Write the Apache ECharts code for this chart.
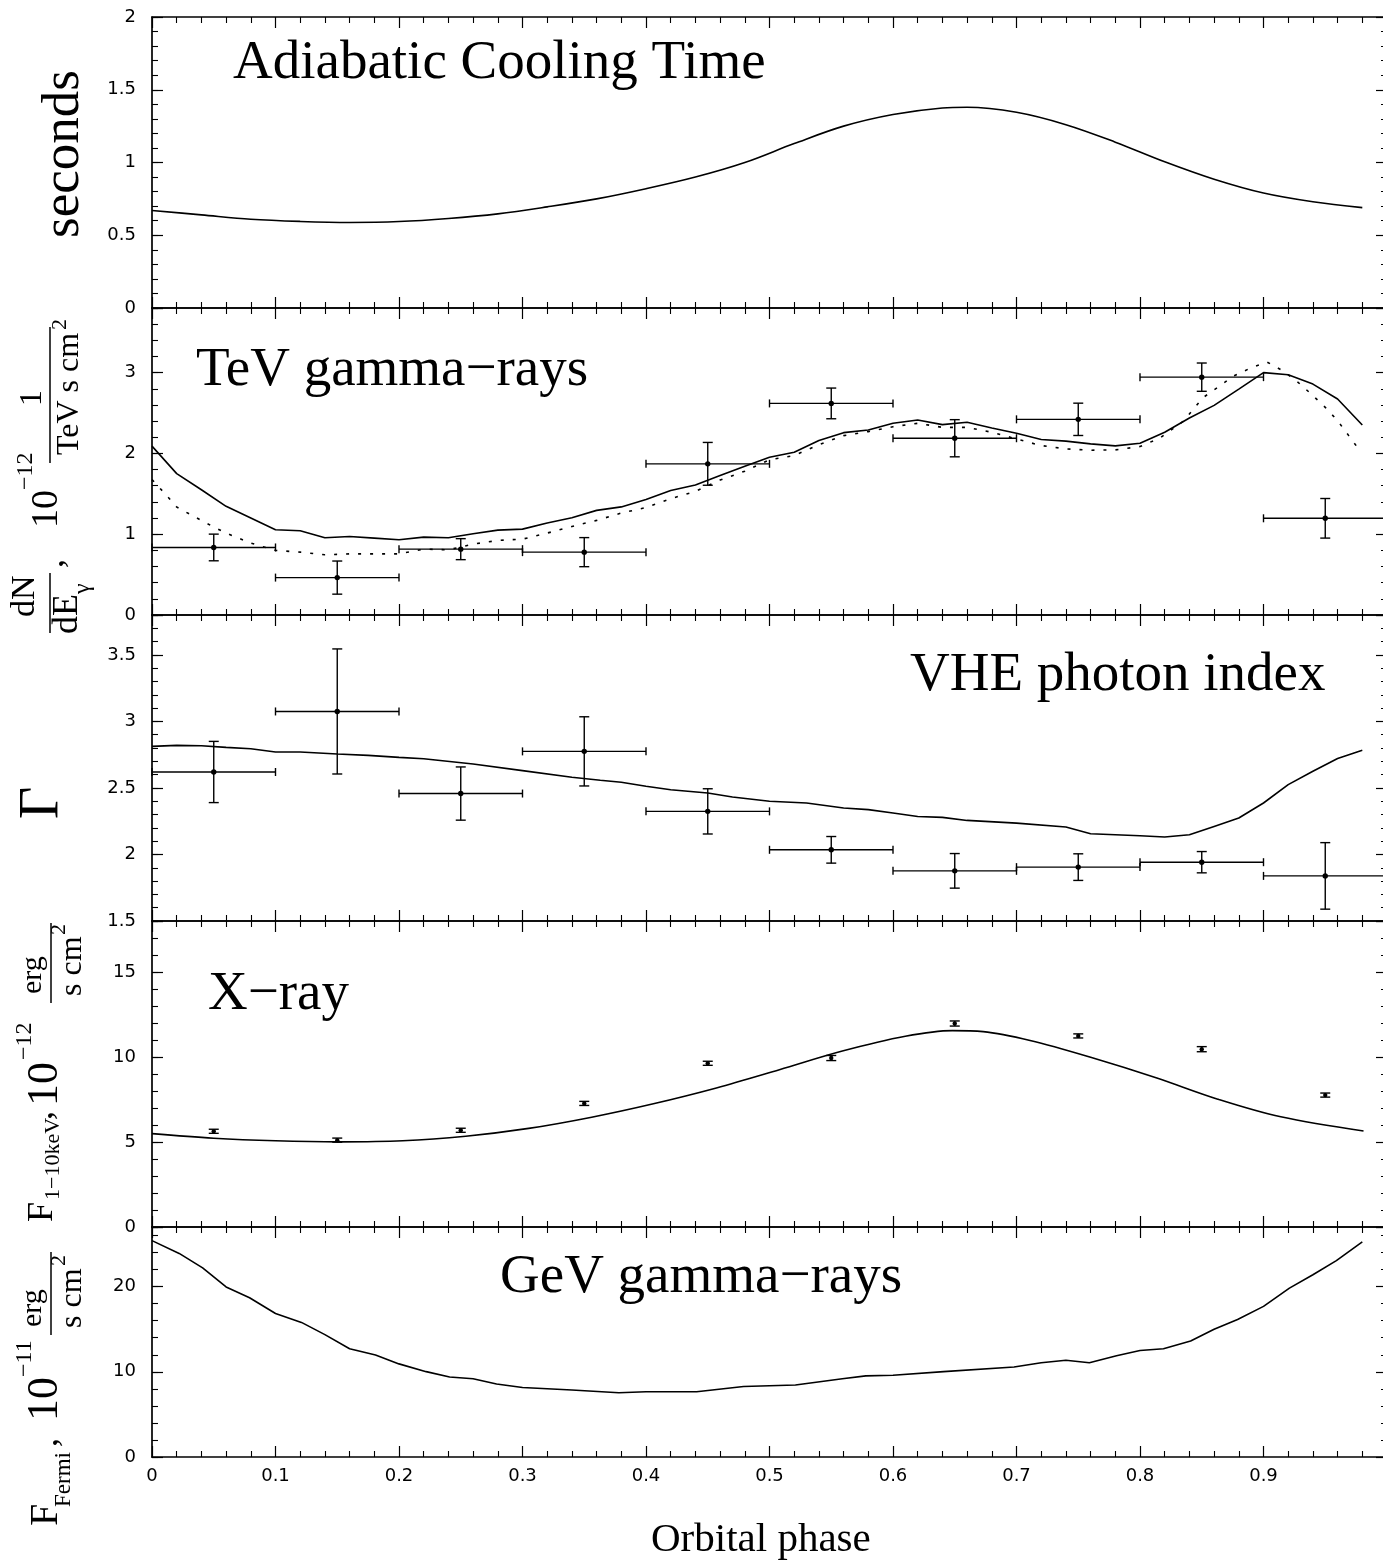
<!DOCTYPE html>
<html><head><meta charset="utf-8">
<script src="https://cdn.jsdelivr.net/npm/echarts@6/dist/echarts.min.js"></script>
<style>html,body{margin:0;padding:0;background:#fff}#c{width:1383px;height:1560px}</style>
</head><body><div id="c"></div><script>
// ---------------- DATA ----------------
const binCenters = [0.05,0.15,0.25,0.35,0.45,0.55,0.65,0.75,0.85,0.95];
const binHalfWidth = [0.05,0.05,0.05,0.05,0.05,0.05,0.05,0.05,0.05,0.05];

const coolPhase = [0,0.04,0.08,0.12,0.16,0.2,0.24,0.28,0.32,0.36,0.4,0.44,0.48,0.52,0.56,0.6,0.64,0.66,0.7,0.74,0.78,0.82,0.86,0.9,0.94,0.98];
const coolSec   = [0.67,0.64,0.61,0.595,0.588,0.594,0.615,0.647,0.695,0.75,0.82,0.9,1.0,1.13,1.25,1.33,1.375,1.38,1.345,1.26,1.14,1.005,0.885,0.79,0.73,0.69];

const tevModelPhase = [0,0.02,0.04,0.06,0.08,0.1,0.12,0.14,0.16,0.18,0.2,0.22,0.24,0.26,0.28,0.3,0.32,0.34,0.36,0.38,0.4,0.42,0.44,0.46,0.48,0.5,0.52,0.54,0.56,0.58,0.6,0.62,0.64,0.66,0.68,0.7,0.72,0.74,0.76,0.78,0.8,0.82,0.84,0.86,0.88,0.9,0.92,0.94,0.96,0.98];
const tevModelFlux  = [2.09,1.75,1.55,1.345,1.2,1.055,1.043,0.956,0.972,0.952,0.931,0.964,0.956,1.005,1.051,1.063,1.138,1.204,1.295,1.338,1.43,1.54,1.61,1.727,1.842,1.953,2.015,2.159,2.257,2.29,2.373,2.414,2.356,2.385,2.315,2.25,2.173,2.152,2.118,2.093,2.126,2.262,2.438,2.595,2.796,3.0,2.973,2.858,2.673,2.352];

const tevAltPhase = [0,0.01,0.02,0.034,0.048,0.06,0.08,0.1,0.12,0.14,0.16,0.18,0.2,0.22,0.24,0.26,0.28,0.3,0.32,0.34,0.36,0.38,0.4,0.42,0.44,0.46,0.48,0.5,0.52,0.54,0.56,0.58,0.6,0.62,0.64,0.66,0.68,0.7,0.72,0.74,0.76,0.78,0.8,0.816,0.835,0.851,0.876,0.89,0.903,0.916,0.928,0.939,0.95,0.96,0.969,0.978];
const tevAltFlux  = [1.676,1.51,1.336,1.22,1.105,1.014,0.89,0.80,0.778,0.745,0.757,0.757,0.757,0.815,0.807,0.877,0.923,0.939,1.014,1.096,1.171,1.262,1.33,1.44,1.53,1.67,1.78,1.92,1.974,2.109,2.22,2.27,2.331,2.373,2.323,2.323,2.262,2.179,2.097,2.056,2.04,2.044,2.085,2.19,2.397,2.69,2.96,3.06,3.13,3.02,2.88,2.73,2.57,2.405,2.22,2.035];

const tevFlux    = [0.836,0.463,0.815,0.778,1.871,2.619,2.188,2.422,2.944,1.197];
const tevFluxErr = [0.165,0.205,0.13,0.18,0.265,0.19,0.23,0.2,0.175,0.245];

const idxModelPhase = [0,0.02,0.04,0.06,0.08,0.1,0.12,0.15,0.175,0.2,0.22,0.26,0.3,0.34,0.363,0.38,0.4,0.42,0.45,0.47,0.5,0.53,0.56,0.58,0.6,0.62,0.64,0.66,0.7,0.74,0.76,0.8,0.82,0.84,0.86,0.88,0.9,0.92,0.94,0.96,0.98];
const idxModelVal   = [2.8125,2.82,2.8175,2.805,2.795,2.77,2.77,2.755,2.745,2.73,2.72,2.68,2.63,2.58,2.558,2.543,2.513,2.487,2.462,2.432,2.4,2.387,2.349,2.337,2.312,2.286,2.279,2.256,2.236,2.206,2.156,2.141,2.131,2.148,2.211,2.274,2.387,2.525,2.626,2.721,2.784];
const idxVal = [2.62,3.075,2.458,2.775,2.324,2.035,1.877,1.905,1.942,1.839];
const idxErr = [0.23,0.47,0.2,0.26,0.17,0.1,0.13,0.1,0.08,0.25];

const xrayModelPhase = [0,0.05,0.1,0.152,0.203,0.254,0.305,0.356,0.406,0.457,0.508,0.559,0.61,0.648,0.673,0.711,0.762,0.813,0.863,0.914,0.981];
const xrayModelFlux  = [5.49,5.22,5.07,5.01,5.07,5.34,5.80,6.46,7.25,8.18,9.25,10.35,11.22,11.55,11.49,10.97,9.94,8.78,7.52,6.48,5.65];
const xrayFlux = [5.63,5.11,5.69,7.27,9.63,9.94,11.97,11.24,10.46,7.76];
const xrayErr  = [0.12,0.12,0.12,0.12,0.12,0.15,0.15,0.12,0.15,0.12];

const gevPhase = [0,0.022,0.041,0.06,0.079,0.1,0.121,0.14,0.16,0.181,0.2,0.222,0.241,0.26,0.279,0.3,0.34,0.378,0.4,0.441,0.479,0.521,0.559,0.578,0.6,0.641,0.698,0.72,0.74,0.759,0.781,0.8,0.819,0.841,0.86,0.879,0.9,0.921,0.94,0.959,0.98];
const gevFlux  = [25.4,23.9,22.2,19.96,18.7,16.85,15.8,14.37,12.71,11.97,10.93,10.02,9.4,9.19,8.57,8.16,7.87,7.54,7.66,7.66,8.28,8.45,9.19,9.52,9.6,10.02,10.56,11.06,11.35,11.06,11.88,12.5,12.71,13.62,14.99,16.15,17.68,19.83,21.4,23.06,25.26];

const panelTitles = ['Adiabatic Cooling Time','TeV gamma\u2212rays','VHE photon index','X\u2212ray','GeV gamma\u2212rays'];
const xName = 'Orbital phase';

// ---------------- LAYOUT ----------------
const GL = 152, GW = 1235;
const grids = [
  {top:17, height:291},
  {top:308, height:307},
  {top:615, height:306},
  {top:921, height:306},
  {top:1227, height:230}
];
const yConf = [
  {min:0, max:2, interval:0.5, minor:0.1, showMax:true},
  {min:0, max:3.8, interval:1, minor:0.2, showMax:false},
  {min:1.5, max:3.8, interval:0.5, minor:0.1, showMax:false},
  {min:0, max:18, interval:5, minor:1, showMax:false},
  {min:0, max:27, interval:10, minor:2, showMax:false}
];
const LINE = {color:'#000', width:1.7};
const tickFont = {fontFamily:'DejaVu Sans', fontSize:18, color:'#000'};

const xAxes = [], yAxes = [];
grids.forEach((g,i)=>{
  ['bottom','top'].forEach(pos=>{
    xAxes.push({
      gridIndex:i, type:'value', position:pos, min:0, max:1, interval:0.1,
      axisLine:{show:true, onZero:false, lineStyle:LINE},
      axisTick:{show:true, inside:true, length:11, lineStyle:{color:'#000', width:1.2}},
      minorTick:{show:true, splitNumber:5, length:6, lineStyle:{color:'#000', width:1.1}},
      splitLine:{show:false}, minorSplitLine:{show:false},
      axisLabel:{show:(pos==='bottom' && i===4), margin:10, ...tickFont,
        formatter:v=> v>0.999 ? '' : String(+v.toFixed(2))},
      showMinLabel:true, showMaxLabel:true
    });
  });
  const c = yConf[i];
  ['left','right'].forEach(pos=>{
    yAxes.push({
      gridIndex:i, type:'value', position:pos, min:c.min, max:c.max, interval:c.interval,
      axisLine:{show:true, onZero:false, lineStyle:LINE},
      axisTick:{show:true, inside:true, length:11, lineStyle:{color:'#000', width:1.2}},
      splitLine:{show:false},
      axisLabel:{show:pos==='left', margin:16, showMinLabel:true, showMaxLabel:true, ...tickFont,
        formatter:v=>{
          const k=v/c.interval;
          if (Math.abs(k-Math.round(k))>1e-6) return '';
          if (!c.showMax && v>c.max-1e-6) return '';
          return String(+v.toFixed(3));
        }}
    });
    yAxes.push({
      gridIndex:i, type:'value', position:pos, min:c.min, max:c.max, interval:c.minor,
      axisLine:{show:false, onZero:false},
      axisTick:{show:true, inside:true, length:6, lineStyle:{color:'#000', width:1.1}},
      splitLine:{show:false}, axisLabel:{show:false}
    });
  });
});

function zip(a,b){ return a.map((x,i)=>[x,b[i]]); }
function lineSeries(i, xs, ys, opts){
  return Object.assign({
    type:'line', xAxisIndex:2*i, yAxisIndex:4*i, data:zip(xs,ys), symbol:'none',
    lineStyle:{color:'#000', width:1.6}, silent:true, animation:false, z:3
  }, opts||{});
}
function errRender(withX, capW, dotR){
  return function(params, api){
    const x=api.value(0), y=api.value(1), hw=api.value(2), e=api.value(3);
    const c=api.coord([x,y]), t=api.coord([x,y+e]), b=api.coord([x,y-e]);
    const st={stroke:'#000', lineWidth:1.4};
    const ch=[
      {type:'line', shape:{x1:t[0],y1:t[1],x2:b[0],y2:b[1]}, style:st},
      {type:'line', shape:{x1:t[0]-capW,y1:t[1],x2:t[0]+capW,y2:t[1]}, style:st},
      {type:'line', shape:{x1:b[0]-capW,y1:b[1],x2:b[0]+capW,y2:b[1]}, style:st}
    ];
    if (withX){
      const l=api.coord([x-hw,y]), r=api.coord([x+hw,y]);
      ch.push({type:'line', shape:{x1:l[0],y1:l[1],x2:r[0],y2:r[1]}, style:st});
      ch.push({type:'line', shape:{x1:l[0],y1:l[1]-4,x2:l[0],y2:l[1]+4}, style:st});
      ch.push({type:'line', shape:{x1:r[0],y1:r[1]-4,x2:r[0],y2:r[1]+4}, style:st});
    }
    ch.push({type:'circle', shape:{cx:c[0],cy:c[1],r:dotR}, style:{fill:'#000'}});
    return {type:'group', children:ch};
  };
}
function errSeries(i, ys, errs, withX, capW, dotR){
  return {
    type:'custom', xAxisIndex:2*i, yAxisIndex:4*i, clip:false, silent:true, animation:false,
    data: binCenters.map((x,k)=>[x, ys[k], binHalfWidth[k], errs[k]]),
    encode:{x:0, y:1}, renderItem: errRender(withX, capW, dotR), z:4
  };
}

const series = [
  lineSeries(0, coolPhase, coolSec, {smooth:0.35}),
  lineSeries(1, tevModelPhase, tevModelFlux),
  lineSeries(1, tevAltPhase, tevAltFlux, {lineStyle:{color:'#000', width:1.6, type:[3,9]}}),
  errSeries(1, tevFlux, tevFluxErr, true, 5, 2.7),
  lineSeries(2, idxModelPhase, idxModelVal),
  errSeries(2, idxVal, idxErr, true, 5, 2.7),
  lineSeries(3, xrayModelPhase, xrayModelFlux, {smooth:0.35}),
  errSeries(3, xrayFlux, xrayErr, false, 5, 2.2),
  lineSeries(4, gevPhase, gevFlux)
];

// ---------------- TEXT ----------------
const SERIF = '"Liberation Serif", "Times New Roman", serif';
const K = 0.3375;
function hor(text, x, base, fs){
  return {type:'text', x:x, y:base-K*fs, silent:true,
    style:{text:text, font:fs+'px '+SERIF, fill:'#000', textAlign:'left', textVerticalAlign:'middle', verticalAlign:'middle'}};
}
function rot(text, bx, sy, fs){
  return {type:'text', x:bx-K*fs, y:sy, rotation:Math.PI/2, silent:true,
    style:{text:text, font:fs+'px '+SERIF, fill:'#000', textAlign:'left', textVerticalAlign:'middle', verticalAlign:'middle'}};
}
function ln(x1,y1,x2,y2){
  return {type:'line', silent:true, shape:{x1:x1,y1:y1,x2:x2,y2:y2}, style:{stroke:'#000', lineWidth:1.5}};
}
const graphic = [
  hor(panelTitles[0], 233, 82, 55),
  hor(panelTitles[1], 196, 389, 55),
  hor(panelTitles[2], 910, 694, 55),
  hor(panelTitles[3], 208, 1013, 55),
  hor(panelTitles[4], 500, 1296, 55),
  hor(xName, 651, 1554, 41),
  rot('seconds', 82, 238, 53),
  rot('dN', 37, 617, 34), ln(50,573,50,633), rot('dE', 80, 634, 36), rot('\u03b3', 91, 594, 24),
  rot(',', 66, 568, 36), rot('10', 60, 528, 38), rot('\u221212', 34, 490, 24),
  rot('1', 43, 406, 32), ln(50,327,50,463), rot('TeV s cm', 80, 455, 32), rot('2', 68, 330, 22),
  rot('\u0393', 62, 819, 56),
  rot('F', 55, 1222, 36), rot('1\u221210keV', 61, 1200, 22), rot(',', 55, 1120, 36),
  rot('10', 60, 1106, 44), rot('\u221212', 33, 1060, 24),
  rot('erg', 43, 994, 30), ln(51,923,51,1003), rot('s cm', 83, 996, 32), rot('2', 67, 935, 22),
  rot('F', 60, 1526, 40), rot('Fermi', 72, 1507, 23), rot(',', 60, 1447, 36),
  rot('10', 60, 1421, 44), rot('\u221211', 33, 1377, 24),
  rot('erg', 43, 1327, 30), ln(51,1252,51,1335), rot('s cm', 83, 1328, 32), rot('2', 67, 1266, 22)
];

const chart = echarts.init(document.getElementById('c'), null, {renderer:'canvas'});
chart.setOption({
  backgroundColor:'#fff',
  animation:false,
  grid: grids.map(g=>({left:GL, width:GW, top:g.top, height:g.height, containLabel:false, outerBoundsMode:'none'})),
  xAxis: xAxes,
  yAxis: yAxes,
  series: series,
  graphic: graphic
});
</script></body></html>
